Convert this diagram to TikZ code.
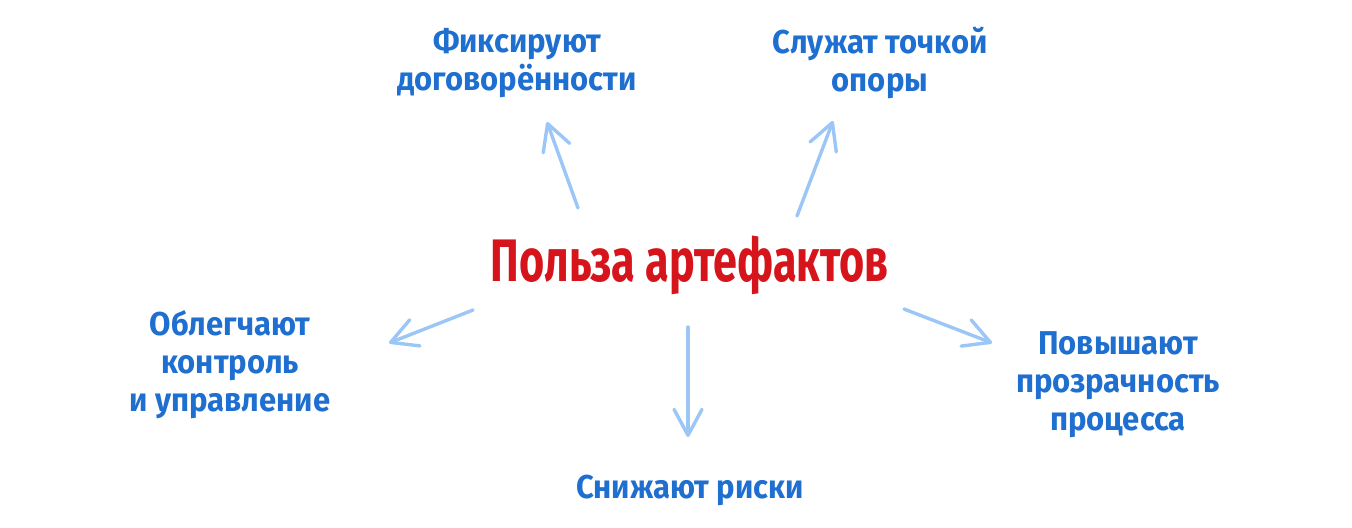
\documentclass[tikz,border=0pt]{standalone}
\usepackage{fontspec}
\setmainfont[FakeStretch=0.94]{Fira Sans}
\newfontfamily\headfont[FakeStretch=0.72]{Fira Sans}
\usetikzlibrary{arrows.meta}
\definecolor{headred}{RGB}{214,20,28}
\definecolor{textblue}{RGB}{31,111,208}
\definecolor{arrowblue}{RGB}{155,198,246}

\begin{document}
\begin{tikzpicture}[x=0.5pt,y=-0.5pt,
  head/.style={font=\headfont\bfseries\fontsize{30}{36}\selectfont,text=headred,inner sep=0pt},
  benefit/.style={font=\bfseries\fontsize{16.5}{19}\selectfont,text=textblue,align=center,inner sep=0pt},
  link/.style={color=arrowblue,line width=1.7pt,line cap=round,-{Straight Barb[length=13pt,width=14pt,round]}}]
  \useasboundingbox (0,0) rectangle (1352,527);
  \path
  node[head] (title) at (690,265) {Польза артефактов}
  node[benefit] (fix) at (517,63) {Фиксируют\\договорённости}
  node[benefit] (base) at (880,63) {Служат точкой\\опоры}
  node[benefit] (ctrl) at (230,365) {Облегчают\\контроль\\и управление}
  node[benefit] (risk) at (690,490) {Снижают риски}
  node[benefit] (clear) at (1118,385) {Повышают\\прозрачность\\процесса}
  ;
  % arrow ends
  \coordinate (fix-s) at (578,208);  \coordinate (fix-e) at (547,122);
  \coordinate (base-s) at (797,216); \coordinate (base-e) at (833,121);
  \coordinate (ctrl-s) at (473,310); \coordinate (ctrl-e) at (389,343);
  \coordinate (risk-s) at (688,327); \coordinate (risk-e) at (688,437);
  \coordinate (clear-s) at (904,309); \coordinate (clear-e) at (992,343);
  \path[link]
  (fix-s) edge (fix-e)
  (base-s) edge (base-e)
  (ctrl-s) edge (ctrl-e)
  (risk-s) edge (risk-e)
  (clear-s) edge (clear-e)
  ;
\end{tikzpicture}
\end{document}
